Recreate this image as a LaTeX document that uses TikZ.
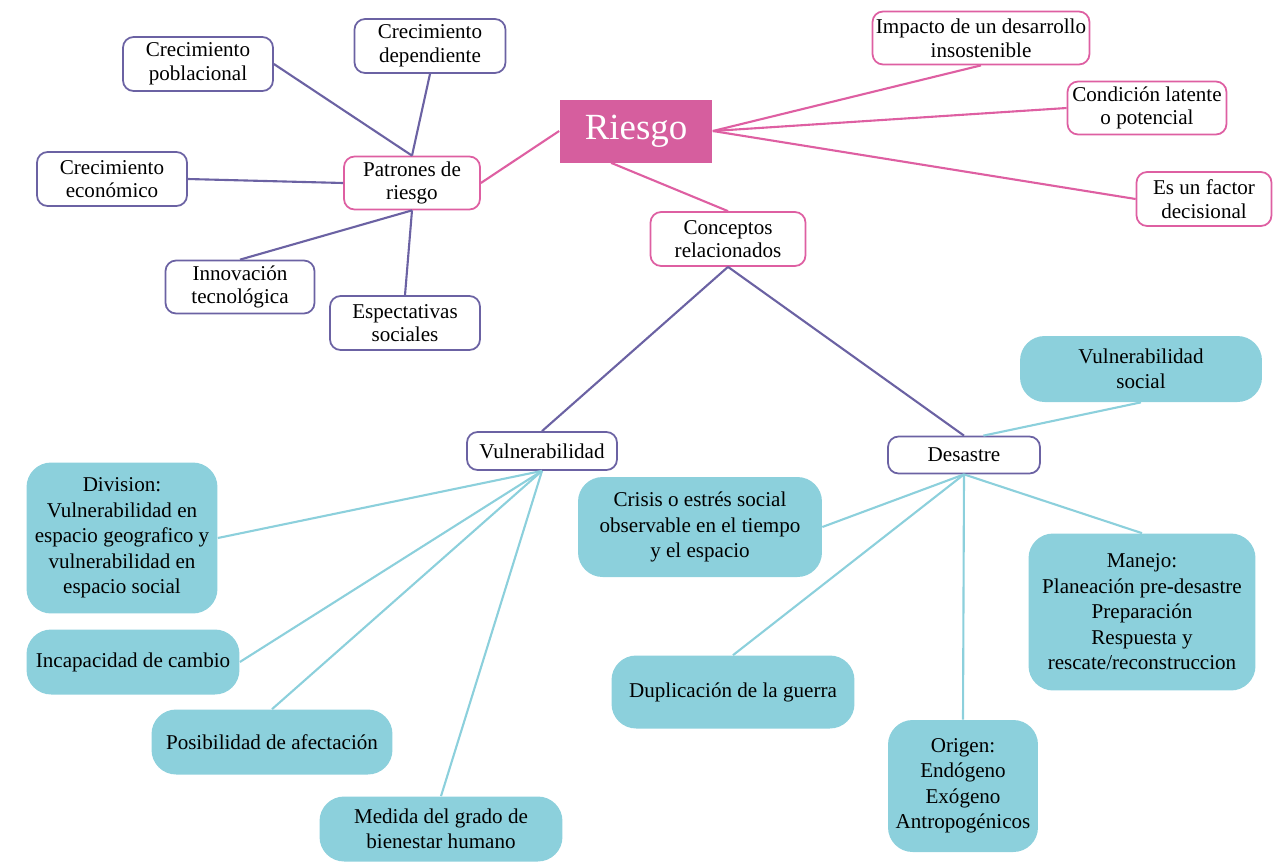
\documentclass[tikz,border=0pt]{standalone}
\usepackage{fontspec}
\setmainfont{Liberation Serif}
\usepackage{tikz}
\definecolor{riesgoc}{HTML}{D65E9E}
\definecolor{pinkc}{HTML}{DE5FA2}
\definecolor{purc}{HTML}{6B62A3}
\definecolor{tealc}{HTML}{8CD0DC}
\tikzset{
  pinkbox/.style={draw=pinkc, line width=1pt, fill=white, rounded corners=6pt, align=center, inner sep=1pt, font=\fontsize{12}{13.5}\selectfont},
  purbox/.style={draw=purc, line width=1pt, fill=white, rounded corners=6pt, align=center, inner sep=1pt, font=\fontsize{12}{13.5}\selectfont},
  tealbox/.style={fill=tealc, rounded corners=14pt, align=center, inner sep=1pt, font=\fontsize{12}{14.5}\selectfont},
  pinkline/.style={draw=pinkc, line width=1.2pt},
  purline/.style={draw=purc, line width=1.2pt},
  tealline/.style={draw=tealc, line width=1.2pt}
}

\begin{document}
\begin{tikzpicture}[x=0.02cm, y=-0.02cm]
\useasboundingbox (0,0) rectangle (1281,863);
% centro
\node[fill=riesgoc, text=white, minimum width=3.06cm, minimum height=1.26cm, font=\fontsize{21}{24}\selectfont] (riesgo) at (636,131) {Riesgo};
\node[pinkbox, minimum width=4.34cm, minimum height=1.06cm] (impacto) at (981,38) {Impacto de un desarrollo\\insostenible};
\node[pinkbox, minimum width=3.18cm, minimum height=1.06cm] (condicion) at (1147,108) {Condición latente\\o potencial};
\node[pinkbox, minimum width=2.7cm, minimum height=1.08cm] (factor) at (1204,199) {Es un factor\\decisional};
\node[pinkbox, minimum width=3.1cm, minimum height=1.08cm] (conceptos) at (728,239) {Conceptos\\relacionados};
\node[pinkbox, minimum width=2.72cm, minimum height=1.06cm] (patrones) at (412,183) {Patrones de\\riesgo};
% patrones de riesgo
\node[purbox, minimum width=3cm, minimum height=1.08cm] (poblacional) at (198,64) {Crecimiento\\poblacional};
\node[purbox, minimum width=3.02cm, minimum height=1.08cm] (dependiente) at (430,46) {Crecimiento\\dependiente};
\node[purbox, minimum width=3cm, minimum height=1.08cm] (economico) at (112,179) {Crecimiento\\económico};
\node[purbox, minimum width=2.98cm, minimum height=1.06cm] (innovacion) at (240,287) {Innovación\\tecnológica};
\node[purbox, minimum width=3cm, minimum height=1.08cm] (espectativas) at (405,323) {Espectativas\\sociales};
% conceptos relacionados
\node[purbox, minimum width=3cm, minimum height=0.76cm] (vulnerabilidad) at (542,451) {Vulnerabilidad};
\node[purbox, minimum width=3.04cm, minimum height=0.74cm] (desastre) at (964,455) {Desastre};
% vulnerabilidad
\node[tealbox, minimum width=3.82cm, minimum height=3.02cm] (division) at (122,538) {Division:\\Vulnerabilidad en\\espacio geografico y\\vulnerabilidad en\\espacio social};
\node[tealbox, minimum width=4.26cm, minimum height=1.3cm] (incapacidad) at (133,662) {Incapacidad de cambio};
\node[tealbox, minimum width=4.82cm, minimum height=1.3cm] (posibilidad) at (272,742) {Posibilidad de afectación};
\node[tealbox, minimum width=4.86cm, minimum height=1.3cm] (medida) at (441,829) {Medida del grado de\\bienestar humano};
% desastre
\node[tealbox, minimum width=4.84cm, minimum height=1.32cm] (vsocial) at (1141,369) {Vulnerabilidad\\social};
\node[tealbox, minimum width=4.88cm, minimum height=2cm] (crisis) at (700,527) {Crisis o estrés social\\observable en el tiempo\\y el espacio};
\node[tealbox, minimum width=4.54cm, minimum height=3.14cm] (manejo) at (1142,612) {Manejo:\\Planeación pre-desastre\\Preparación\\Respuesta y\\rescate/reconstruccion};
\node[tealbox, minimum width=4.86cm, minimum height=1.46cm] (duplicacion) at (733,692) {Duplicación de la guerra};
\node[tealbox, minimum width=3cm, minimum height=2.64cm] (origen) at (963,786) {Origen:\\Endógeno\\Exógeno\\Antropogénicos};

% conectores
\draw[pinkline] (riesgo.west) -- (patrones.east);
\draw[pinkline] (riesgo.east) -- (impacto.south);
\draw[pinkline] (riesgo.east) -- (condicion.west);
\draw[pinkline] (riesgo.east) -- (factor.west);
\draw[pinkline] (riesgo.232) -- (conceptos.north);
\draw[purline] (poblacional.east) -- (patrones.north);
\draw[purline] (dependiente.south) -- (patrones.north);
\draw[purline] (economico.east) -- (patrones.west);
\draw[purline] (innovacion.north) -- (patrones.south);
\draw[purline] (espectativas.north) -- (patrones.south);
\draw[purline] (conceptos.south) -- (vulnerabilidad.north);
\draw[purline] (conceptos.south) -- (desastre.north);
\draw[tealline] (vulnerabilidad.south) -- (division.east);
\draw[tealline] (vulnerabilidad.south) -- (incapacidad.east);
\draw[tealline] (vulnerabilidad.south) -- (posibilidad.north);
\draw[tealline] (vulnerabilidad.south) -- (medida.north);
\draw[tealline] (desastre.45) -- (vsocial.south);
\draw[tealline] (desastre.south) -- (crisis.east);
\draw[tealline] (desastre.south) -- (duplicacion.north);
\draw[tealline] (desastre.south) -- (origen.north);
\draw[tealline] (desastre.south) -- (manejo.north);
\end{tikzpicture}
\end{document}
